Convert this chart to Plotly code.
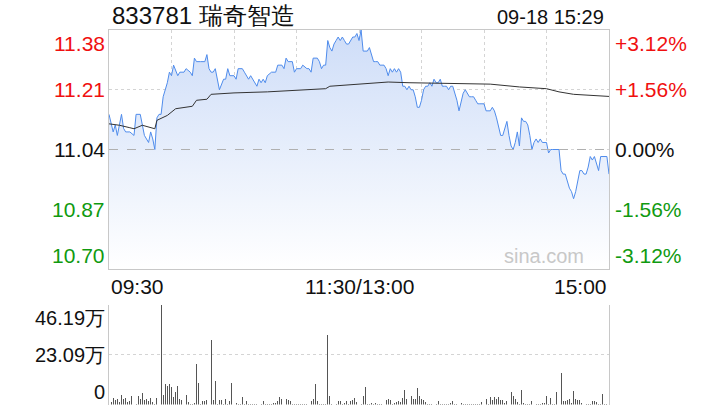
import plotly.graph_objects as go

# ---------------- data ----------------
title_text = "833781 瑞奇智造"
time_text = "09-18 15:29"
prev_close = 11.04

price_ticks = [11.38, 11.21, 11.04, 10.87, 10.70]
price_tick_labels = ["11.38", "11.21", "11.04", "10.87", "10.70"]
pct_tick_labels = ["+3.12%", "+1.56%", "0.00%", "-1.56%", "-3.12%"]
tick_colors = ["#f01010", "#f01010", "#111111", "#109a10", "#109a10"]

time_tick_pos = [0, 120, 240]
time_tick_labels = ["09:30", "11:30/13:00", "15:00"]

vol_ticks = [46.19, 23.09, 0]
vol_tick_labels = ["46.19万", "23.09万", "0"]

# minute index (0 = 09:30, 120 = 11:30/13:00, 240 = 15:00) and price
price_min = [0, 2, 3, 4, 6, 7, 8, 10, 12, 13,
             15, 16, 17, 19, 20, 21, 22, 23, 24, 25,
             26, 28, 29, 30, 31, 33, 34, 36, 37, 39,
             40, 41, 42, 44, 46, 47, 48, 49, 50, 51,
             52, 53, 55, 56, 57, 58, 60, 61, 62, 64,
             65, 67, 68, 69, 71, 72, 73, 74, 75, 76,
             78, 80, 81, 83, 84, 85, 86, 88, 89, 90,
             92, 93, 95, 96, 97, 98, 100, 101, 102, 103,
             104, 105, 106, 107, 108, 109, 110, 111, 112, 113,
             114, 115, 116, 117, 118, 119, 120, 121, 122, 123,
             124, 125, 126, 127, 128, 129, 130, 131, 132, 133,
             134, 135, 136, 137, 138, 139, 140, 141, 142, 143,
             144, 145, 146, 147, 148, 149, 150, 151, 152, 153,
             154, 155, 156, 157, 158, 159, 160, 161, 162, 163,
             164, 165, 166, 167, 168, 169, 170, 171, 172, 173,
             174, 175, 176, 177, 178, 180, 181, 183, 184, 185,
             186, 187, 188, 189, 190, 191, 192, 193, 194, 195,
             196, 197, 198, 199, 200, 201, 202, 203, 204, 205,
             206, 207, 208, 209, 210, 211, 212, 213, 215, 216,
             217, 218, 219, 220, 221, 222, 223, 224, 225, 226,
             227, 228, 229, 230, 231, 232, 233, 234, 235, 236,
             237, 238, 239, 240]
price_val = [11.14, 11.09, 11.11, 11.08, 11.14, 11.10, 11.09, 11.09, 11.08, 11.14,
             11.14, 11.11, 11.08, 11.06, 11.09, 11.07, 11.04, 11.13, 11.14, 11.14,
             11.19, 11.23, 11.26, 11.25, 11.28, 11.25, 11.26, 11.26, 11.27, 11.26,
             11.25, 11.30, 11.29, 11.29, 11.29, 11.31, 11.27, 11.26, 11.26, 11.27,
             11.24, 11.21, 11.24, 11.24, 11.27, 11.25, 11.25, 11.24, 11.27, 11.27,
             11.26, 11.24, 11.25, 11.24, 11.22, 11.24, 11.23, 11.24, 11.23, 11.25,
             11.26, 11.26, 11.28, 11.28, 11.27, 11.30, 11.29, 11.29, 11.26, 11.27,
             11.27, 11.28, 11.27, 11.27, 11.26, 11.30, 11.30, 11.29, 11.27, 11.28,
             11.28, 11.35, 11.33, 11.32, 11.34, 11.35, 11.36, 11.35, 11.36, 11.35,
             11.34, 11.34, 11.35, 11.36, 11.36, 11.37, 11.35, 11.38, 11.32, 11.32,
             11.32, 11.33, 11.31, 11.29, 11.29, 11.29, 11.28, 11.28, 11.28, 11.27,
             11.25, 11.27, 11.26, 11.27, 11.26, 11.27, 11.26, 11.22, 11.22, 11.21,
             11.22, 11.21, 11.21, 11.19, 11.16, 11.16, 11.18, 11.21, 11.22, 11.22,
             11.23, 11.22, 11.24, 11.23, 11.23, 11.24, 11.22, 11.22, 11.22, 11.21,
             11.22, 11.22, 11.20, 11.18, 11.15, 11.18, 11.20, 11.21, 11.20, 11.19,
             11.19, 11.19, 11.18, 11.17, 11.17, 11.17, 11.15, 11.15, 11.16, 11.15,
             11.13, 11.10, 11.08, 11.08, 11.10, 11.12, 11.08, 11.05, 11.04, 11.06,
             11.09, 11.05, 11.13, 11.12, 11.12, 11.11, 11.08, 11.04, 11.06, 11.07,
             11.06, 11.07, 11.06, 11.06, 11.06, 11.03, 11.04, 11.04, 11.04, 11.04,
             10.98, 10.97, 10.97, 10.95, 10.93, 10.92, 10.90, 10.92, 10.95, 10.98,
             10.98, 10.97, 10.97, 10.99, 11.02, 11.01, 11.02, 11.00, 10.98, 11.02,
             11.02, 11.02, 11.02, 10.97]

avg_min = [0, 5, 10, 12, 16, 22, 23, 28, 32, 40,
           42, 47, 49, 60, 76, 96, 104, 106, 120, 134,
           144, 159, 183, 197, 210, 216, 223, 240]
avg_val = [11.113, 11.109, 11.102, 11.099, 11.109, 11.099, 11.123, 11.137, 11.156, 11.163,
           11.180, 11.183, 11.197, 11.201, 11.204, 11.209, 11.213, 11.220, 11.225, 11.232,
           11.230, 11.229, 11.226, 11.218, 11.213, 11.204, 11.197, 11.191]

# volume per minute, in 万 (10k shares), minutes 0..240
volume = [0.50, 1.24, 3.25, 2.30, 2.78, 1.24, 4.64, 2.63, 3.10, 1.24,
          1.55, 4.02, 0.46, 0.46, 4.18, 2.78, 5.57, 2.01, 2.63, 1.55,
          3.25, 1.24, 0.46, 3.25, 37.28, 46.19, 4.33, 9.44, 8.66, 9.44,
          8.20, 3.56, 5.88, 8.51, 2.48, 2.01, 0.93, 4.33, 1.08, 0.46,
          0.46, 0.93, 18.72, 10.06, 0.46, 1.55, 1.70, 2.01, 4.33, 30.17,
          2.01, 10.98, 0.46, 2.30, 2.30, 0.46, 2.48, 0.46, 1.70, 10.06,
          0.46, 0.62, 0.46, 0.46, 3.56, 0.46, 1.55, 0.46, 0.30, 0.46,
          0.46, 0.30, 3.87, 0.46, 1.55, 0.46, 0.46, 0.46, 0.30, 0.93,
          0.93, 1.55, 3.56, 2.48, 7.58, 2.48, 2.01, 1.55, 0.46, 0.46,
          0.30, 0.30, 0.46, 0.30, 0.30, 0.30, 1.55, 1.55, 2.78, 9.44,
          1.55, 0.46, 0.46, 0.46, 0.46, 32.18, 3.87, 0.46, 0.93, 0.30,
          1.55, 1.55, 0.46, 0.93, 1.55, 0.30, 1.55, 2.01, 3.10, 1.24,
          1.24, 0.30, 4.02, 8.20, 0.46, 0.46, 0.77, 0.30, 0.93, 0.46,
          0.46, 0.30, 0.77, 2.01, 2.48, 2.01, 0.30, 0.93, 1.24, 1.55,
          1.08, 3.10, 6.65, 2.48, 2.01, 3.87, 2.78, 2.78, 7.73, 3.87,
          2.48, 2.01, 1.08, 0.46, 0.46, 0.30, 0.46, 0.30, 1.55, 0.30,
          0.46, 0.30, 0.46, 0.46, 0.77, 1.55, 0.46, 0.30, 5.88, 0.77,
          0.46, 0.30, 0.46, 0.30, 0.46, 0.30, 0.46, 0.30, 0.46, 1.24,
          2.01, 2.48, 0.46, 3.56, 2.01, 3.40, 2.48, 3.40, 2.01, 2.01,
          0.93, 1.55, 1.55, 5.88, 3.87, 2.48, 1.24, 0.46, 6.65, 0.93,
          0.46, 0.46, 0.30, 1.55, 0.93, 0.46, 0.30, 0.30, 0.93, 0.77,
          3.87, 0.46, 3.10, 0.46, 0.46, 5.88, 1.24, 14.70, 1.55, 1.55,
          2.01, 2.48, 0.93, 6.19, 2.78, 2.01, 2.01, 0.77, 0.93, 0.46,
          0.46, 0.46, 1.55, 1.55, 1.24, 0.46, 0.46, 5.10, 0.46, 0.30,
          4.80]
vol_min = list(range(len(volume)))

# ---------------- styling ----------------
W, H = 720, 420


def px(x):
    return x / W


def py(y):
    return 1 - y / H


PX_L, PX_R = 109, 609
P_TOP, P_BOT = 30, 269
V_TOP, V_BOT = 305, 404.5
FONT = "Liberation Sans, Arial, sans-serif"
GRID = "#d4d4d4"
BORDER = "#c8c8c8"

fig = go.Figure()

fig.add_trace(go.Scatter(
    x=price_min, y=price_val, mode="lines",
    line=dict(color="#4f8cec", width=1),
    fill="tozeroy",
    fillgradient=dict(type="vertical",
                      colorscale=[[0, "rgba(255,255,255,1)"], [1, "rgba(206,221,248,1)"]],
                      start=price_ticks[-1], stop=price_ticks[0]),
    hoverinfo="skip", xaxis="x", yaxis="y"))

fig.add_trace(go.Scatter(
    x=avg_min, y=avg_val, mode="lines",
    line=dict(color="#333333", width=1),
    hoverinfo="skip", xaxis="x", yaxis="y"))

fig.add_trace(go.Bar(
    x=vol_min, y=volume, width=0.45,
    marker=dict(color="#555555", line=dict(width=0)),
    hoverinfo="skip", xaxis="x2", yaxis="y2"))

xd = [px(PX_L), px(PX_R)]
fig.update_layout(
    width=W, height=H,
    margin=dict(l=0, r=0, t=0, b=0),
    paper_bgcolor="white", plot_bgcolor="white",
    showlegend=False,
    bargap=0,
    hovermode=False,
    font=dict(family=FONT, color="#111111"),
    xaxis=dict(domain=xd, range=[0, 240], tickvals=list(range(0, 241, 30)),
               showticklabels=False, ticks="", showgrid=True, gridcolor=GRID,
               griddash="dot", gridwidth=1, zeroline=False,
               showline=True, mirror=True, linecolor=BORDER, linewidth=1,
               anchor="y", fixedrange=True),
    yaxis=dict(domain=[py(P_BOT), py(P_TOP)],
               range=[price_ticks[-1], price_ticks[0]], tickvals=price_ticks,
               showticklabels=False, ticks="", showgrid=True, gridcolor=GRID,
               griddash="dot", gridwidth=1, zeroline=False,
               showline=True, mirror=True, linecolor=BORDER, linewidth=1,
               anchor="x", fixedrange=True),
    xaxis2=dict(domain=xd, range=[0, 240], showticklabels=False, ticks="",
                showgrid=False, zeroline=False, showline=False,
                anchor="y2", fixedrange=True),
    yaxis2=dict(domain=[py(V_BOT), py(V_TOP)],
                range=[0, vol_ticks[0]], tickvals=vol_ticks,
                showticklabels=False, ticks="", showgrid=True, gridcolor=GRID,
                griddash="dot", gridwidth=1, zeroline=False,
                showline=True, mirror=True, linecolor=BORDER, linewidth=1,
                anchor="x2", fixedrange=True),
)

# prev close reference line
fig.add_shape(type="line", xref="x", yref="y", x0=0, x1=240, y0=prev_close, y1=prev_close,
              line=dict(color="#b0b0b0", width=1, dash="dash"))

anns = []
anns.append(dict(text=title_text, x=px(110), y=py(16), xref="paper", yref="paper",
                 xanchor="left", yanchor="middle", showarrow=False,
                 font=dict(size=24, color="#111111")))
anns.append(dict(text=time_text, x=px(606), y=py(17), xref="paper", yref="paper",
                 xanchor="right", yanchor="middle", showarrow=False,
                 font=dict(size=20, color="#111111")))
n = len(price_ticks)
for i, (v, lab, pl, col) in enumerate(zip(price_ticks, price_tick_labels, pct_tick_labels, tick_colors)):
    ya = "top" if i == 0 else ("bottom" if i == n - 1 else "middle")
    anns.append(dict(text=lab, x=px(107), y=v, xref="paper", yref="y",
                     xanchor="right", yanchor=ya, showarrow=False,
                     font=dict(size=21, color=col)))
    anns.append(dict(text=pl, x=px(613), y=v, xref="paper", yref="y",
                     xanchor="left", yanchor=ya, showarrow=False,
                     font=dict(size=21, color=col)))
xa = ["left", "center", "right"]
for pos, lab, anc in zip(time_tick_pos, time_tick_labels, xa):
    anns.append(dict(text=lab, x=pos, y=py(286), xref="x", yref="paper",
                     xanchor=anc, yanchor="middle", showarrow=False,
                     font=dict(size=21, color="#111111")))
m = len(vol_ticks)
for i, (v, lab) in enumerate(zip(vol_ticks, vol_tick_labels)):
    ya = "top" if i == 0 else ("bottom" if i == m - 1 else "middle")
    anns.append(dict(text=lab, x=px(107), y=v, xref="paper", yref="y2",
                     xanchor="right", yanchor=ya, showarrow=False,
                     font=dict(size=20, color="#111111")))
anns.append(dict(text="sina.com", x=px(586), y=py(256), xref="paper", yref="paper",
                 xanchor="right", yanchor="middle", showarrow=False,
                 font=dict(size=20, color="#c8c8c8")))
fig.update_layout(annotations=anns)

# remove the default 8px page margin so the 720x420 figure fills the window
fig.write_html("out.html",
               config={"displayModeBar": False, "staticPlot": True},
               post_script="document.body.style.margin='0';document.body.style.overflow='hidden';")
